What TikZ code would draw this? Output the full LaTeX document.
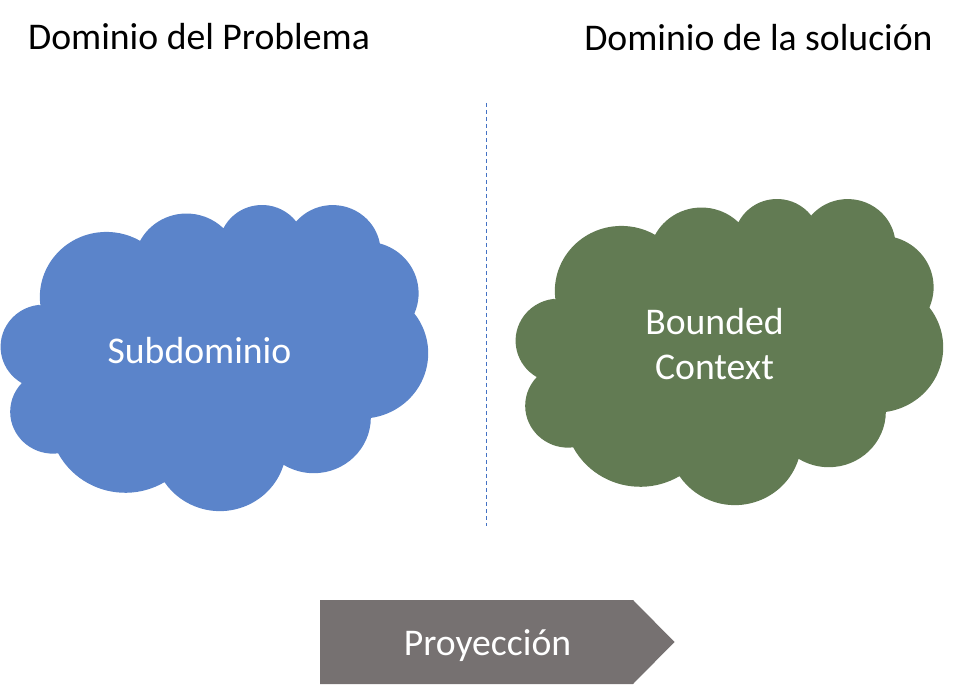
\documentclass[tikz,border=0pt]{standalone}
\usepackage{fontspec}
\setmainfont{Carlito}
\definecolor{cloudblue}{HTML}{5B84CA}
\definecolor{cloudgreen}{HTML}{627B53}
\definecolor{arrowgray}{HTML}{767171}
\definecolor{dashblue}{HTML}{4472C4}
\tikzset{
  carc/.style n args={4}{insert path={
    arc[start angle={atan2(#1*sin(#3),#2*cos(#3))},
        delta angle={Mod(atan2(#1*sin((#3)+(#4)),#2*cos((#3)+(#4)))-atan2(#1*sin(#3),#2*cos(#3)),360)},
        x radius=#1, y radius=#2]}},
  bigtext/.style={font=\fontsize{37.7}{46}\selectfont, inner sep=0pt, anchor=base},
  titletext/.style={bigtext, text=black},
  intext/.style={bigtext, text=white},
  divider/.style={draw=dashblue, line width=1pt, dash pattern=on 4pt off 3pt},
}
\begin{document}
\begin{tikzpicture}[x=1pt,y=1pt]
\useasboundingbox (0,0) rectangle (957,688);
\foreach \cx/\cy/\col in {2/204/cloudblue, 517/198/cloudgreen}{
  \begin{scope}[shift={(\cx,688-\cy)}, xscale=0.98611, yscale=-0.70833]
    \fill[\col] (39.00,143.70)
      [carc={67.53}{91.90}{-190.48748}{123.78053}]
      [carc={53.33}{72.67}{-144.10238}{89.94523}]
      [carc={43.65}{59.45}{-145.80792}{99.72302}]
      [carc={48.57}{65.95}{-130.98607}{117.24173}]
      [carc={53.33}{72.73}{-78.70888}{109.02692}]
      [carc={67.75}{92.20}{-46.26725}{130.26900}]
      [carc={57.85}{78.67}{0.62502}{114.03333}]
      [carc={67.52}{92.15}{22.45160}{115.17255}]
      [carc={77.20}{105.43}{66.24263}{77.58753}]
      [carc={43.60}{59.18}{-274.94208}{146.73557}]
      [carc={43.45}{59.45}{-246.82850}{152.51885}]
      -- cycle;
  \end{scope}
}
% titles
\node[titletext] (t1) at (199,638) {Dominio del Problema};
\node[titletext] (t2) at (758.5,637.5) {Dominio de la solución};
% divider
\coordinate (dtop) at (486.3,585);
\coordinate (dbot) at (486.3,162);
\draw[divider] (dtop) -- (dbot);
% cloud texts
\node[intext] (sub) at (199.5,324.7) {Subdominio};
\node[intext] (bc1) at (714.5,353) {Bounded};
\node[intext] (bc2) at (714.5,308) {Context};
% arrow
\coordinate (a1) at (320,88);
\coordinate (a2) at (633,88);
\coordinate (a3) at (674.5,46);
\coordinate (a4) at (633,4);
\coordinate (a5) at (320,4);
\fill[arrowgray] (a1) -- (a2) -- (a3) -- (a4) -- (a5) -- cycle;
\node[intext] (proy) at (487.5,33) {Proyección};
\end{tikzpicture}
\end{document}
